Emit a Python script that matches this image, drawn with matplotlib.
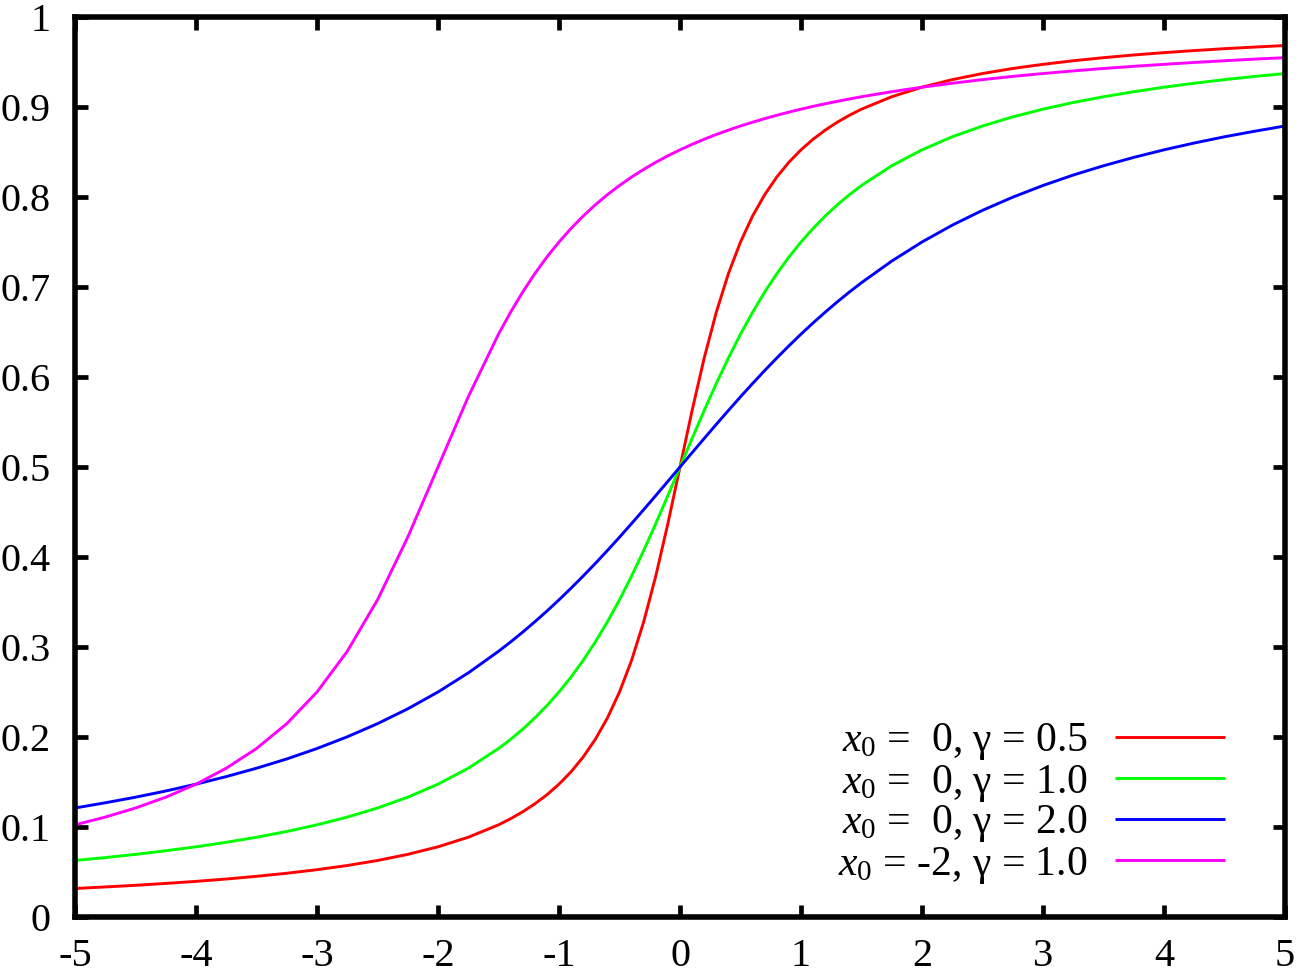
"""
Cauchy CDF curves, gnuplot-style look.
Values were read off the reference picture.
"""

import matplotlib
matplotlib.use("Agg")
import matplotlib.pyplot as plt

plt.rcParams["font.family"] = ["Liberation Serif", "DejaVu Serif"]
plt.rcParams["mathtext.fontset"] = "custom"
plt.rcParams["mathtext.rm"] = "Liberation Serif"
plt.rcParams["mathtext.it"] = "Liberation Serif:italic"

# ------------------------------------------------------------
# data
# ------------------------------------------------------------
x = [-5, -4.75, -4.5, -4.25, -4, -3.75, -3.5, -3.25, -3, -2.75, -2.5, -2.25, -2, -1.75,
     -1.5, -1.4, -1.3, -1.2, -1.1, -1.0, -0.9, -0.8, -0.7, -0.6, -0.5, -0.4, -0.3, -0.2, -0.1,
     0.0, 0.1, 0.2, 0.3, 0.4, 0.5, 0.6, 0.7, 0.8, 0.9, 1.0, 1.1, 1.2, 1.3, 1.4, 1.5,
     1.75, 2, 2.25, 2.5, 2.75, 3, 3.25, 3.5, 3.75, 4, 4.25, 4.5, 4.75, 5]

y_red = [0.0317, 0.0334, 0.0352, 0.0373, 0.0396, 0.0422, 0.0452, 0.0486, 0.0526, 0.0572,
         0.0628, 0.0696, 0.0780, 0.0886,
         0.1024, 0.1092, 0.1169, 0.1257, 0.1358, 0.1476, 0.1614, 0.1778, 0.1974, 0.2211,
         0.2500, 0.2852, 0.3280, 0.3789, 0.4372,
         0.5000, 0.5628, 0.6211, 0.6720, 0.7148, 0.7500, 0.7789, 0.8026, 0.8222, 0.8386,
         0.8524, 0.8642, 0.8743, 0.8831, 0.8908, 0.8976,
         0.9114, 0.9220, 0.9304, 0.9372, 0.9428, 0.9474, 0.9514, 0.9548, 0.9578, 0.9604,
         0.9627, 0.9648, 0.9666, 0.9683]

y_green = [0.0628, 0.0660, 0.0696, 0.0736, 0.0780, 0.0830, 0.0886, 0.0950, 0.1024, 0.1110,
           0.1211, 0.1331, 0.1476, 0.1653,
           0.1872, 0.1974, 0.2087, 0.2211, 0.2349, 0.2500, 0.2667, 0.2852, 0.3056, 0.3280,
           0.3524, 0.3789, 0.4072, 0.4372, 0.4683,
           0.5000, 0.5317, 0.5628, 0.5928, 0.6211, 0.6476, 0.6720, 0.6944, 0.7148, 0.7333,
           0.7500, 0.7651, 0.7789, 0.7913, 0.8026, 0.8128,
           0.8347, 0.8524, 0.8669, 0.8789, 0.8890, 0.8976, 0.9050, 0.9114, 0.9170, 0.9220,
           0.9264, 0.9304, 0.9340, 0.9372]

y_blue = [0.1211, 0.1269, 0.1331, 0.1400, 0.1476, 0.1560, 0.1653, 0.1756, 0.1872, 0.2002,
          0.2148, 0.2313, 0.2500, 0.2712,
          0.2952, 0.3056, 0.3165, 0.3280, 0.3399, 0.3524, 0.3654, 0.3789, 0.3928, 0.4072,
          0.4220, 0.4372, 0.4526, 0.4683, 0.4841,
          0.5000, 0.5159, 0.5317, 0.5474, 0.5628, 0.5780, 0.5928, 0.6072, 0.6211, 0.6346,
          0.6476, 0.6601, 0.6720, 0.6835, 0.6944, 0.7048,
          0.7288, 0.7500, 0.7687, 0.7852, 0.7998, 0.8128, 0.8244, 0.8347, 0.8440, 0.8524,
          0.8600, 0.8669, 0.8731, 0.8789]

y_magenta = [0.1024, 0.1110, 0.1211, 0.1331, 0.1476, 0.1653, 0.1872, 0.2148, 0.2500, 0.2952,
             0.3524, 0.4220, 0.5000, 0.5780,
             0.6476, 0.6720, 0.6944, 0.7148, 0.7333, 0.7500, 0.7651, 0.7789, 0.7913, 0.8026,
             0.8128, 0.8222, 0.8307, 0.8386, 0.8458,
             0.8524, 0.8585, 0.8642, 0.8695, 0.8743, 0.8789, 0.8831, 0.8871, 0.8908, 0.8943,
             0.8976, 0.9007, 0.9036, 0.9063, 0.9089, 0.9114,
             0.9170, 0.9220, 0.9264, 0.9304, 0.9340, 0.9372, 0.9401, 0.9428, 0.9452, 0.9474,
             0.9495, 0.9514, 0.9532, 0.9548]

labels = [r"$x_0$ =  0, γ = 0.5",
          r"$x_0$ =  0, γ = 1.0",
          r"$x_0$ =  0, γ = 2.0",
          r"$x_0$ = -2, γ = 1.0"]
colors = ["#ff0000", "#00ff00", "#0000ff", "#ff00ff"]

x_ticks = [-5, -4, -3, -2, -1, 0, 1, 2, 3, 4, 5]
y_ticks = [0, 0.1, 0.2, 0.3, 0.4, 0.5, 0.6, 0.7, 0.8, 0.9, 1]
y_tick_labels = ["0", "0.1", "0.2", "0.3", "0.4", "0.5", "0.6", "0.7", "0.8", "0.9", "1"]


# ------------------------------------------------------------
# plot
# ------------------------------------------------------------
fig = plt.figure(figsize=(13, 9.75), dpi=100)
ax = fig.add_axes([75 / 1300, 1 - 917 / 975, 1210 / 1300, 900 / 975])

for ys, lab, col in zip([y_red, y_green, y_blue, y_magenta], labels, colors):
    ax.plot(x, ys, color=col, lw=2.1, label=lab, solid_capstyle="butt")

ax.set_xlim(-5, 5)
ax.set_ylim(0, 1)
ax.set_xticks(x_ticks)
ax.set_xticklabels([str(t) for t in x_ticks])
ax.set_yticks(y_ticks)
ax.set_yticklabels(y_tick_labels)

for sp in ax.spines.values():
    sp.set_linewidth(4.0)
ax.tick_params(direction="in", top=True, right=True, length=9, width=3.4,
               labelsize=29, pad=17.5)
ax.tick_params(axis="x", pad=15)

leg = ax.legend(loc="lower right", markerfirst=False, frameon=False, fontsize=30,
                handlelength=2.64, handletextpad=0.65, labelspacing=0.0,
                borderpad=0.0, borderaxespad=0.0,
                bbox_to_anchor=((1225 - 75) / 1210, 0.035))

fig.savefig("out.png", dpi=100, facecolor="white")
